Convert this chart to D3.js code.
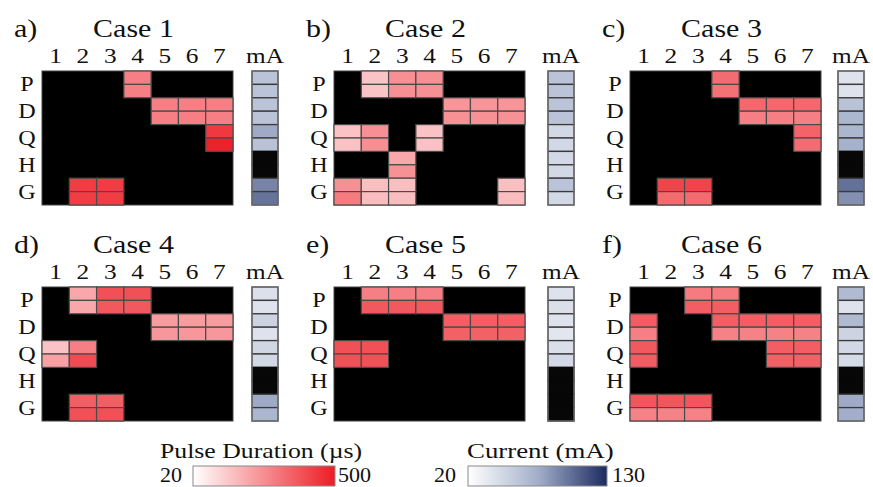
<!DOCTYPE html>
<html>
<head>
<meta charset="utf-8">
<script src="https://cdn.jsdelivr.net/npm/d3@7"></script>
<style>
  html, body { margin: 0; padding: 0; background: #fff; }
  svg { display: block; }
</style>
</head>
<body>
<svg id="chart" width="873" height="487"></svg>
<script>
// ---------------- DATA ----------------
const caseNames = ["Case 1", "Case 2", "Case 3", "Case 4", "Case 5", "Case 6"];
const panelLetters = ["a)", "b)", "c)", "d)", "e)", "f)"];
const channels = ["1", "2", "3", "4", "5", "6", "7"];
const muscles = ["P", "D", "Q", "H", "G"];
// each muscle has two sub-rows (10 rows total)
const subRows = ["P1", "P2", "D1", "D2", "Q1", "Q2", "H1", "H2", "G1", "G2"];

// Pulse duration (µs) per sub-row x channel, 0 = not stimulated
const case1Pulse = [
  [0, 0, 0, 290, 0, 0, 0],
  [0, 0, 0, 290, 0, 0, 0],
  [0, 0, 0, 0, 290, 290, 290],
  [0, 0, 0, 0, 290, 290, 290],
  [0, 0, 0, 0, 0, 0, 440],
  [0, 0, 0, 0, 0, 0, 490],
  [0, 0, 0, 0, 0, 0, 0],
  [0, 0, 0, 0, 0, 0, 0],
  [0, 430, 430, 0, 0, 0, 0],
  [0, 430, 430, 0, 0, 0, 0]
];
const case2Pulse = [
  [0, 145, 255, 255, 0, 0, 0],
  [0, 145, 255, 255, 0, 0, 0],
  [0, 0, 0, 0, 244, 244, 244],
  [0, 0, 0, 0, 250, 250, 250],
  [150, 255, 0, 150, 0, 0, 0],
  [150, 260, 0, 150, 0, 0, 0],
  [0, 0, 205, 0, 0, 0, 0],
  [0, 0, 250, 0, 0, 0, 0],
  [255, 155, 155, 0, 0, 0, 155],
  [300, 160, 160, 0, 0, 0, 160]
];
const case3Pulse = [
  [0, 0, 0, 330, 0, 0, 0],
  [0, 0, 0, 320, 0, 0, 0],
  [0, 0, 0, 0, 340, 340, 340],
  [0, 0, 0, 0, 290, 290, 290],
  [0, 0, 0, 0, 0, 0, 350],
  [0, 0, 0, 0, 0, 0, 330],
  [0, 0, 0, 0, 0, 0, 0],
  [0, 0, 0, 0, 0, 0, 0],
  [0, 415, 415, 0, 0, 0, 0],
  [0, 335, 335, 0, 0, 0, 0]
];
const case4Pulse = [
  [0, 205, 390, 390, 0, 0, 0],
  [0, 205, 370, 370, 0, 0, 0],
  [0, 0, 0, 0, 230, 230, 230],
  [0, 0, 0, 0, 240, 240, 240],
  [150, 290, 0, 0, 0, 0, 0],
  [220, 400, 0, 0, 0, 0, 0],
  [0, 0, 0, 0, 0, 0, 0],
  [0, 0, 0, 0, 0, 0, 0],
  [0, 360, 360, 0, 0, 0, 0],
  [0, 390, 390, 0, 0, 0, 0]
];
const case5Pulse = [
  [0, 290, 290, 290, 0, 0, 0],
  [0, 370, 370, 370, 0, 0, 0],
  [0, 0, 0, 0, 360, 360, 360],
  [0, 0, 0, 0, 355, 355, 355],
  [390, 390, 0, 0, 0, 0, 0],
  [390, 390, 0, 0, 0, 0, 0],
  [0, 0, 0, 0, 0, 0, 0],
  [0, 0, 0, 0, 0, 0, 0],
  [0, 0, 0, 0, 0, 0, 0],
  [0, 0, 0, 0, 0, 0, 0]
];
const case6Pulse = [
  [0, 0, 300, 300, 0, 0, 0],
  [0, 0, 360, 360, 0, 0, 0],
  [365, 0, 0, 360, 360, 360, 360],
  [290, 0, 0, 285, 285, 285, 285],
  [370, 0, 0, 0, 0, 360, 360],
  [365, 0, 0, 0, 0, 355, 355],
  [0, 0, 0, 0, 0, 0, 0],
  [0, 0, 0, 0, 0, 0, 0],
  [380, 380, 380, 0, 0, 0, 0],
  [285, 285, 285, 0, 0, 0, 0]
];

// Current (mA) per sub-row, 0 = none
const case1Current = [61, 61, 61, 61, 77, 62, 0, 0, 93, 100];
const case2Current = [61, 61, 61, 61, 47, 47, 47, 47, 61, 47];
const case3Current = [40, 40, 62, 70, 70, 73, 0, 0, 101, 88];
const case4Current = [41, 40, 50, 40, 48, 47, 0, 0, 77, 70];
const case5Current = [40, 42, 40, 37, 42, 47, 0, 0, 0, 0];
const case6Current = [67, 40, 67, 50, 47, 45, 0, 0, 77, 75];

const pulseDomain = [20, 500];
const currentDomain = [20, 130];
const pulseTicks = ["20", "500"];
const currentTicks = ["20", "130"];

const pulseData = [case1Pulse, case2Pulse, case3Pulse, case4Pulse, case5Pulse, case6Pulse];
const currentData = [case1Current, case2Current, case3Current, case4Current, case5Current, case6Current];

// ---------------- LAYOUT ----------------
const svg = d3.select("#chart");
const FONT = "'Liberation Serif', 'Times New Roman', serif";
const SX = 1.2; // horizontal stretch of the original figure's text

const gridX = [42, 334, 630];
const gridY = [71, 287];
const gridW = 191, gridH = 134;
const mAX = [252, 548, 838];
const mAW = 26;

const pulseColor = d3.scaleLinear().domain(pulseDomain).range(["#ffffff", "#ed1c24"]).clamp(true);
const currentColor = d3.scaleLinear()
  .domain([currentDomain[0], 75, currentDomain[1]])
  .range(["#ffffff", "#a3afca", "#1c2b60"]).clamp(true);

function txt(parent, x, y, s, size, anchor, sx) {
  return parent.append("g")
    .attr("transform", `translate(${x},${y}) scale(${sx === undefined ? SX : sx},1)`)
    .append("text")
    .attr("font-family", FONT)
    .attr("font-size", size)
    .attr("text-anchor", anchor || "start")
    .attr("fill", "#111")
    .text(s);
}

const xBand = d3.scaleBand().domain(channels).range([0, gridW]);
const yBand = d3.scaleBand().domain(subRows).range([0, gridH]);

caseNames.forEach((name, i) => {
  const col = i % 3, row = Math.floor(i / 3);
  const gx = gridX[col], gy = gridY[row];
  const g = svg.append("g").attr("transform", `translate(${gx},${gy})`);

  // titles
  txt(g, -28, -34, panelLetters[i], 25, "start", 1.2);
  txt(g, gridW / 2 - 4, -34, name, 25, "middle", 1.2);

  // column labels
  channels.forEach(c => {
    txt(g, xBand(c) + xBand.bandwidth() / 2, -8, c, 22, "middle", 1.15);
  });

  // row labels
  muscles.forEach((m, k) => {
    const yc = yBand(subRows[2 * k]) + yBand.bandwidth();
    txt(g, -15, yc + 7, m, 21, "middle", 1.15);
  });

  // black background
  g.append("rect").attr("x", 0).attr("y", 0).attr("width", gridW).attr("height", gridH)
    .attr("fill", "#000").attr("stroke", "#444").attr("stroke-width", 1);

  const cells = [];
  pulseData[i].forEach((r, ri) => r.forEach((v, ci) => cells.push({ r: subRows[ri], c: channels[ci], v })));

  g.selectAll("rect.cell").data(cells.filter(d => d.v > 0)).join("rect")
    .attr("class", "cell")
    .attr("x", d => xBand(d.c))
    .attr("y", d => yBand(d.r))
    .attr("width", xBand.bandwidth())
    .attr("height", yBand.bandwidth())
    .attr("fill", d => pulseColor(d.v))
    .attr("stroke", "#4a4a4a")
    .attr("stroke-width", 1.2);

  // mA column
  const mg = svg.append("g").attr("transform", `translate(${mAX[col]},${gy})`);
  txt(mg, mAW / 2, -8, "mA", 22, "middle", 1.15);
  const cur = currentData[i].map((v, k) => ({ r: subRows[k], v }));
  mg.selectAll("rect.cur").data(cur).join("rect")
    .attr("class", "cur")
    .attr("x", 0)
    .attr("y", d => yBand(d.r))
    .attr("width", mAW)
    .attr("height", yBand.bandwidth())
    .attr("fill", d => d.v > 0 ? currentColor(d.v) : "#070707")
    .attr("stroke", d => d.v > 0 ? "#3a3a3a" : "#070707")
    .attr("stroke-width", 1.3);
  mg.append("rect").attr("x", 0).attr("y", 0).attr("width", mAW).attr("height", gridH)
    .attr("fill", "none").attr("stroke", "#777").attr("stroke-width", 1.3);
});

// ---------------- LEGENDS ----------------
const defs = svg.append("defs");
function gradient(id, scale, domain) {
  const lg = defs.append("linearGradient").attr("id", id)
    .attr("x1", "0%").attr("x2", "100%").attr("y1", "0%").attr("y2", "0%");
  d3.range(0, 1.0001, 0.05).forEach(t => {
    lg.append("stop").attr("offset", (t * 100) + "%")
      .attr("stop-color", scale(domain[0] + t * (domain[1] - domain[0])));
  });
}
gradient("gradPulse", pulseColor, pulseDomain);
gradient("gradCurrent", currentColor, currentDomain);

const legY = 466, legH = 20;
// pulse legend
const pScaleX = d3.scaleLinear().domain(pulseDomain).range([193, 335]);
txt(svg, 160, 458, "Pulse Duration (µs)", 22, "start", 1.17);
svg.append("rect").attr("x", pScaleX(pulseDomain[0])).attr("y", legY)
  .attr("width", pScaleX(pulseDomain[1]) - pScaleX(pulseDomain[0])).attr("height", legH)
  .attr("fill", "url(#gradPulse)").attr("stroke", "#888").attr("stroke-width", 1);
txt(svg, pScaleX(pulseDomain[0]) - 11, 482, pulseTicks[0], 21, "end", 1.05);
txt(svg, pScaleX(pulseDomain[1]) + 3, 482, pulseTicks[1], 21, "start", 1.05);

// current legend
const cScaleX = d3.scaleLinear().domain(currentDomain).range([468, 607]);
txt(svg, 467, 458, "Current (mA)", 22, "start", 1.22);
svg.append("rect").attr("x", cScaleX(currentDomain[0])).attr("y", legY)
  .attr("width", cScaleX(currentDomain[1]) - cScaleX(currentDomain[0])).attr("height", legH)
  .attr("fill", "url(#gradCurrent)").attr("stroke", "#888").attr("stroke-width", 1);
txt(svg, cScaleX(currentDomain[0]) - 12, 482, currentTicks[0], 21, "end", 1.05);
txt(svg, cScaleX(currentDomain[1]) + 5, 482, currentTicks[1], 21, "start", 1.05);
</script>
</body>
</html>
